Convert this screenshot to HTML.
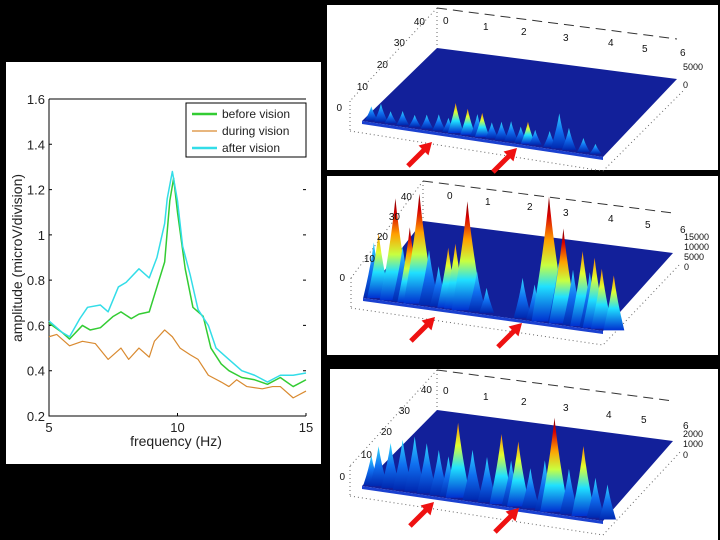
<!DOCTYPE html>
<html><head><meta charset="utf-8">
<style>
html,body{margin:0;padding:0;background:#000;}
svg{display:block;font-family:"Liberation Sans",sans-serif;}
</style></head>
<body>
<svg id="root" width="720" height="540" viewBox="0 0 720 540" xmlns="http://www.w3.org/2000/svg">
<defs>
<linearGradient id="gTall" x1="0" y1="0" x2="0" y2="1">
<stop offset="0" stop-color="#7a0000"/><stop offset="0.15" stop-color="#d80000"/><stop offset="0.35" stop-color="#ffa000"/><stop offset="0.55" stop-color="#c8ff40"/><stop offset="0.72" stop-color="#20e0ff"/><stop offset="1" stop-color="#0030d0"/>
</linearGradient>
<linearGradient id="gMid" x1="0" y1="0" x2="0" y2="1">
<stop offset="0" stop-color="#ff8a00"/><stop offset="0.3" stop-color="#e0ff30"/><stop offset="0.6" stop-color="#20e0ff"/><stop offset="1" stop-color="#0030d0"/>
</linearGradient>
<linearGradient id="gLow" x1="0" y1="0" x2="0" y2="1">
<stop offset="0" stop-color="#30d8ff"/><stop offset="0.5" stop-color="#1070f0"/><stop offset="1" stop-color="#0028b0"/>
</linearGradient>
</defs>
<rect x="6" y="62" width="315" height="402" fill="#fff"/>
<rect x="327" y="5" width="391" height="165" fill="#fff"/>
<rect x="327" y="176" width="391" height="179" fill="#fff"/>
<rect x="330" y="369" width="388" height="171" fill="#fff"/>
<g id="chart"></g>
<g id="p3d"></g>
</svg>
<script>
const freqGreen=[5,5.5,5.8,6.3,6.6,7,7.5,7.8,8.2,8.5,8.9,9.2,9.5,9.7,9.85,10,10.3,10.6,11,11.3,11.7,12,12.5,13,13.5,14,14.5,15];
const valGreen=[0.61,0.57,0.54,0.60,0.58,0.59,0.64,0.66,0.63,0.65,0.66,0.77,0.88,1.15,1.25,1.1,0.85,0.68,0.64,0.50,0.43,0.40,0.37,0.36,0.34,0.37,0.33,0.36];
const freqCyan=[5,5.5,5.8,6.2,6.5,7,7.3,7.7,8,8.5,8.9,9.2,9.5,9.6,9.8,10,10.2,10.5,10.8,11.2,11.5,12,12.5,13,13.5,14,14.5,15];
const valCyan=[0.62,0.57,0.55,0.63,0.68,0.69,0.66,0.77,0.79,0.85,0.81,0.90,1.05,1.16,1.28,1.15,0.95,0.82,0.67,0.60,0.50,0.45,0.40,0.38,0.35,0.38,0.38,0.39];
const freqOrange=[5,5.3,5.8,6.3,6.8,7.3,7.8,8.1,8.5,8.9,9.1,9.5,9.8,10.1,10.5,10.8,11.2,11.7,12,12.3,12.7,13.3,13.7,14,14.5,15];
const valOrange=[0.55,0.56,0.51,0.53,0.52,0.45,0.50,0.45,0.50,0.46,0.53,0.58,0.55,0.50,0.47,0.45,0.38,0.35,0.33,0.36,0.33,0.32,0.33,0.33,0.28,0.31];
const xTicks=[5,10,15];
const yTicks=[0.2,0.4,0.6,0.8,1,1.2,1.4,1.6];
const spikesTop=[[0.02,14,'low'],[0.06,18,'low'],[0.1,12,'low'],[0.15,14,'low'],[0.2,12,'low'],[0.25,14,'low'],[0.3,16,'low'],[0.34,14,'low'],[0.37,30,'mid'],[0.42,26,'mid'],[0.46,22,'low'],[0.48,24,'mid'],[0.52,16,'low'],[0.56,18,'low'],[0.6,20,'low'],[0.64,16,'low'],[0.67,22,'mid'],[0.7,15,'low'],[0.76,16,'low'],[0.8,35,'low'],[0.84,22,'low'],[0.9,14,'low'],[0.95,10,'low']];
const spikesMid=[[0.03,55,'low'],[0.05,65,'mid'],[0.1,60,'mid'],[0.12,102,'tall'],[0.15,55,'low'],[0.18,75,'tall'],[0.22,110,'tall'],[0.26,55,'low'],[0.3,40,'low'],[0.34,60,'mid'],[0.37,65,'mid'],[0.4,50,'low'],[0.42,109,'tall'],[0.46,40,'low'],[0.5,25,'low'],[0.65,40,'low'],[0.7,35,'low'],[0.74,60,'low'],[0.76,125,'tall'],[0.8,60,'low'],[0.82,95,'tall'],[0.86,55,'low'],[0.9,75,'mid'],[0.93,55,'low'],[0.95,70,'mid'],[0.98,60,'mid'],[1.03,55,'mid']];
const spikesBot=[[0.02,30,'low'],[0.05,40,'low'],[0.1,45,'low'],[0.15,50,'low'],[0.2,55,'low'],[0.25,50,'low'],[0.3,45,'low'],[0.34,40,'low'],[0.38,75,'mid'],[0.44,50,'low'],[0.5,45,'low'],[0.56,70,'mid'],[0.6,45,'low'],[0.63,65,'mid'],[0.68,40,'low'],[0.74,50,'low'],[0.78,94,'tall'],[0.84,45,'low'],[0.9,70,'mid'],[0.95,40,'low'],[1.0,35,'low']];

const NS='http://www.w3.org/2000/svg';
function mk(tag,attrs,parent){const e=document.createElementNS(NS,tag);for(const k in attrs)e.setAttribute(k,attrs[k]);parent.appendChild(e);return e;}
const chart=document.getElementById('chart');
const X0=49,X1=306,Y0=416,Y1=99;
function sx(f){return X0+(f-5)/10*(X1-X0);}
function sy(v){return Y0-(v-0.2)/1.4*(Y0-Y1);}
let ax=mk('path',{d:`M${X0},${Y1}V${Y0}H${X1}M${X0},${Y1}H${X1}`,stroke:'#000',fill:'none','stroke-width':1},chart);


yTicks.forEach(v=>{
  const t=mk('path',{d:`M${X0},${sy(v)}h3M${X1},${sy(v)}h-3`,stroke:'#000'},chart);
  
  
  const l=mk('text',{x:X0-4,y:sy(v)+5,'text-anchor':'end','font-size':13,fill:'#222'},chart);
  l.textContent=String(v);
  
  
});
xTicks.forEach(f=>{
  const t=mk('path',{d:`M${sx(f)},${Y0}v-3`,stroke:'#000'},chart);
  
  
  const l=mk('text',{x:sx(f),y:Y0+16,'text-anchor':'middle','font-size':13,fill:'#222'},chart);
  l.textContent=String(f);
  
  
});
let xl=mk('text',{x:176,y:446,'text-anchor':'middle','font-size':14,fill:'#222'},chart);
xl.textContent='frequency (Hz)';


let yl=mk('text',{x:0,y:0,'text-anchor':'middle','font-size':14,fill:'#222',transform:'translate(22,258) rotate(-90)'},chart);
yl.textContent='amplitude (microV/division)';


function line(fs,vs,color,w,name){
  const p=mk('polyline',{points:fs.map((f,i)=>sx(f)+','+sy(vs[i])).join(' '),fill:'none',stroke:color,'stroke-width':w,'stroke-linejoin':'round'},chart);
  
  
}
line(freqOrange,valOrange,'#d98a30',1.2,'series-during-vision');
line(freqGreen,valGreen,'#33cc33',1.5,'series-before-vision');
line(freqCyan,valCyan,'#33dde8',1.5,'series-after-vision');
let lg=mk('g',{},chart);


mk('rect',{x:186,y:103,width:120,height:54,fill:'#fff',stroke:'#000'},lg);
[['before vision','#33cc33',2.5],['during vision','#d98a30',1.2],['after vision','#33dde8',2.5]].forEach((e,i)=>{
  const g=mk('g',{},lg);
  
  
  const y=114+i*17;
  mk('line',{x1:192,x2:217,y1:y,y2:y,stroke:e[1],'stroke-width':e[2]},g);
  const t=mk('text',{x:222,y:y+4,'font-size':12,fill:'#222'},g);
  t.textContent=e[0];
});

const p3=document.getElementById('p3d');
function panel(name,BL,BR,FR,FL,spikes,ylabs,xlabs,zlabs){
  const g=mk('g',{},p3);
  
  
  mk('path',{d:`M${BL[0]},${BL[1]-40}L${FL[0]-12},${FL[1]-20}M${FL[0]-12},${FL[1]+10}L${FR[0]},${FR[1]+14}L${BR[0]+8},${BR[1]+10}M${BL[0]},${BL[1]-40}V${BL[1]}M${FL[0]-12},${FL[1]-20}V${FL[1]+10}`,fill:'none',stroke:'#666','stroke-dasharray':'1,3','stroke-width':1},g);
  mk('path',{d:`M${BL[0]},${BL[1]-40}L${BR[0]},${BR[1]-40}`,fill:'none',stroke:'#333','stroke-dasharray':'10,6'},g);
  mk('polygon',{points:[BL,BR,FR,FL].map(p=>p.join(',')).join(' '),fill:'#12209a'},g);
  mk('path',{d:`M${FL[0]},${FL[1]}L${FR[0]},${FR[1]}L${FR[0]},${FR[1]+3}L${FL[0]},${FL[1]+3}Z`,fill:'#1a40d0'},g);
  spikes.forEach(s=>{
    const t=s[0],h=s[1];
    const bx=FL[0]+t*(FR[0]-FL[0])+0.06*(BL[0]-FL[0]);
    const by=FL[1]+t*(FR[1]-FL[1])+0.06*(BL[1]-FL[1])+3;
    const w=5+h*0.1;
    const fill=s[2]==='tall'?'url(#gTall)':s[2]==='mid'?'url(#gMid)':'url(#gLow)';
    const p=mk('path',{d:`M${bx-w},${by}Q${bx-w*0.3},${by-h*0.55} ${bx},${by-h}Q${bx+w*0.3},${by-h*0.55} ${bx+w},${by}Z`,fill:fill},g);
    
    
  });
  ylabs.forEach(l=>{const t=mk('text',{x:l[1],y:l[2],'font-size':10,fill:'#111','text-anchor':'end'},g);t.textContent=l[0];});
  xlabs.forEach(l=>{const t=mk('text',{x:l[1],y:l[2],'font-size':10,fill:'#111'},g);t.textContent=l[0];});
  zlabs.forEach(l=>{const t=mk('text',{x:l[1],y:l[2],'font-size':9,fill:'#111'},g);t.textContent=l[0];});
}
function arrow(x,y,name){
  const g=mk('g',{transform:`translate(${x},${y}) rotate(45)`},p3);
  
  
  mk('path',{d:'M0,0L-7,12H-2.5V34H2.5V12H7Z',fill:'#ee1111'},g);
}
panel('top-surface-plot',[437,48],[677,79],[603,157],[362,121],spikesTop,
 [['40',425,25],['30',405,46],['20',388,68],['10',368,90],['0',342,111]],
 [['0',443,24],['1',483,30],['2',521,35],['3',563,41],['4',608,46],['5',642,52],['6',680,56]],
 [['5000',683,70],['0',683,88]]);
panel('middle-surface-plot',[423,221],[673,253],[603,331],[363,298],spikesMid,
 [['40',412,200],['30',400,220],['20',388,240],['10',375,262],['0',345,281]],
 [['0',447,199],['1',485,205],['2',527,210],['3',563,216],['4',608,222],['5',645,228],['6',680,233]],
 [['15000',684,240],['10000',684,250],['5000',684,260],['0',684,270]]);
panel('bottom-surface-plot',[437,410],[673,441],[603,521],[362,486],spikesBot,
 [['40',432,393],['30',410,414],['20',392,435],['10',372,458],['0',345,480]],
 [['0',443,394],['1',483,400],['2',521,405],['3',563,411],['4',606,418],['5',641,423],['6',683,429]],
 [['2000',683,437],['1000',683,447],['0',683,458]]);
arrow(432,142,'arrow-top-left');arrow(517,148,'arrow-top-right');
arrow(435,317,'arrow-middle-left');arrow(522,323,'arrow-middle-right');
arrow(434,502,'arrow-bottom-left');arrow(519,508,'arrow-bottom-right');
</script>
</body></html>
